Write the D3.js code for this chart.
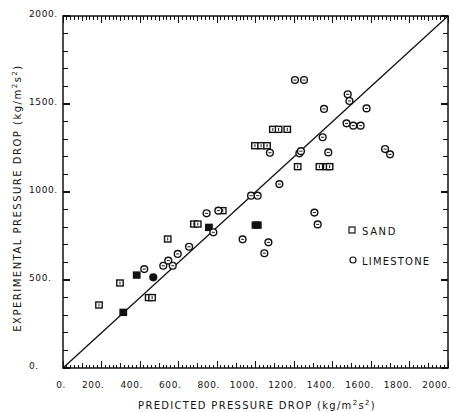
<!DOCTYPE html>
<html><head><meta charset="utf-8">
<script src="https://cdn.jsdelivr.net/npm/d3@7"></script>
<style>
html,body{margin:0;padding:0;background:#fff;}
text{font-family:"DejaVu Sans",sans-serif;fill:#111;}
</style></head>
<body>
<svg id="chart" width="454" height="412"></svg>
<script>
// Predicted (x) vs experimental (y) pressure drop, kg/m^2 s^2
const sandX = [187, 296, 445, 463, 544, 680, 700, 830, 997, 1029, 1060, 1090, 1120, 1165, 1219, 1332, 1370, 1385];
const sandY = [358, 483, 400, 400, 733, 818, 818, 894, 1263, 1263, 1263, 1356, 1356, 1356, 1144, 1144, 1144, 1144];
const sandFilledX = [313, 383, 758, 1000, 1012];
const sandFilledY = [316, 528, 799, 812, 812];
const limeX = [422, 521, 547, 570, 596, 655, 746, 807, 781, 977, 1011, 933, 1067, 1046, 1075, 1124, 1228, 1236, 1349, 1378, 1306, 1323, 1673, 1699, 1205, 1252, 1356, 1479, 1488, 1577, 1473, 1508, 1546];
const limeY = [562, 581, 610, 581, 648, 689, 879, 894, 771, 979, 979, 731, 714, 652, 1223, 1045, 1220, 1232, 1311, 1225, 883, 816, 1244, 1214, 1636, 1636, 1472, 1555, 1517, 1475, 1390, 1377, 1377];
const limeFilledX = [469];
const limeFilledY = [515];
const xTicks = [0, 200, 400, 600, 800, 1000, 1200, 1400, 1600, 1800, 2000];
const yTicks = [0, 500, 1000, 1500, 2000];
const legendLabels = ["SAND", "LIMESTONE"];
const xTitle = "PREDICTED PRESSURE DROP ";
const yTitle = "EXPERIMENTAL PRESSURE DROP ";

const svg = d3.select("#chart");
const x = d3.scaleLinear().domain([0, 2000]).range([63, 448]);
const y = d3.scaleLinear().domain([0, 2000]).range([368, 16]);
const ink = "#111";

// minor ticks
const g = svg.append("g").attr("shape-rendering", "crispEdges");
const minorX = d3.range(0, 2001, 20);
minorX.forEach(v => {
  const len = v % 200 === 0 ? 7 : (v % 100 === 0 ? 5 : 3.5);
  g.append("line").attr("x1", x(v)).attr("x2", x(v)).attr("y1", y(0)).attr("y2", y(0) - len).attr("stroke", ink).attr("stroke-width", 1);
  g.append("line").attr("x1", x(v)).attr("x2", x(v)).attr("y1", y(2000)).attr("y2", y(2000) + len).attr("stroke", ink).attr("stroke-width", 1);
});
const minorY = d3.range(0, 2001, 100);
minorY.forEach(v => {
  const len = v % 500 === 0 ? 7 : 5;
  g.append("line").attr("x1", x(0)).attr("x2", x(0) + len).attr("y1", y(v)).attr("y2", y(v)).attr("stroke", ink).attr("stroke-width", 1.2);
  g.append("line").attr("x1", x(2000)).attr("x2", x(2000) - len).attr("y1", y(v)).attr("y2", y(v)).attr("stroke", ink).attr("stroke-width", 1.2);
});

// frame
svg.append("rect").attr("x", x(0)).attr("y", y(2000)).attr("width", x(2000) - x(0)).attr("height", y(0) - y(2000))
  .attr("fill", "none").attr("stroke", ink).attr("stroke-width", 1.5);

// tick labels
svg.append("g").selectAll("text").data(xTicks).join("text")
  .attr("x", d => x(d) + 3).attr("y", 388).attr("text-anchor", "end")
  .attr("font-size", 9).attr("letter-spacing", 0.6).text(d => d + ".");
svg.append("g").selectAll("text").data(yTicks).join("text")
  .attr("x", 29).attr("y", d => y(d) + 1).attr("text-anchor", "start")
  .attr("font-size", 9).attr("letter-spacing", 0.6).text(d => d + ".");

// axis titles
function unitTitle(sel, base) {
  sel.append("tspan").text(base + "(kg/m");
  sel.append("tspan").attr("font-size", 7).attr("dy", -4).text("2");
  sel.append("tspan").attr("dy", 4).text("s");
  sel.append("tspan").attr("font-size", 7).attr("dy", -4).text("2");
  sel.append("tspan").attr("dy", 4).text(")");
}
const xt = svg.append("text").attr("x", 257).attr("y", 409).attr("text-anchor", "middle")
  .attr("font-size", 10).attr("letter-spacing", 1.3);
unitTitle(xt, xTitle);
const yt = svg.append("text").attr("transform", "translate(21,198) rotate(-90)").attr("text-anchor", "middle")
  .attr("font-size", 10).attr("letter-spacing", 1.5);
unitTitle(yt, yTitle);

// diagonal line
svg.append("line").attr("x1", x(0)).attr("y1", y(0)).attr("x2", x(2000)).attr("y2", y(2000))
  .attr("stroke", ink).attr("stroke-width", 1.3);

// markers
function squares(xs, ys, filled) {
  const s = svg.append("g");
  xs.forEach((v, i) => {
    s.append("rect").attr("x", x(v) - 3.2).attr("y", y(ys[i]) - 3).attr("width", 6.4).attr("height", 6)
      .attr("fill", filled ? ink : "#fff").attr("stroke", ink).attr("stroke-width", 1.4);
    if (!filled) s.append("line").attr("x1", x(v)).attr("x2", x(v)).attr("y1", y(ys[i]) - 1.5).attr("y2", y(ys[i]) + 1.5)
      .attr("stroke", ink).attr("stroke-width", 1);
  });
}
function circles(xs, ys, filled) {
  const s = svg.append("g");
  xs.forEach((v, i) => {
    s.append("circle").attr("cx", x(v)).attr("cy", y(ys[i])).attr("r", 3.4)
      .attr("fill", filled ? ink : "#fff").attr("stroke", ink).attr("stroke-width", 1.4);
    if (!filled) s.append("line").attr("x1", x(v) - 1.5).attr("x2", x(v) + 1.5).attr("y1", y(ys[i])).attr("y2", y(ys[i]))
      .attr("stroke", ink).attr("stroke-width", 1);
  });
}
squares(sandX, sandY, false);
squares(sandFilledX, sandFilledY, true);
circles(limeX, limeY, false);
circles(limeFilledX, limeFilledY, true);

// legend
const lg = svg.append("g");
lg.append("rect").attr("x", 349).attr("y", 227).attr("width", 6).attr("height", 6).attr("fill", "none").attr("stroke", ink).attr("stroke-width", 1.2);
lg.append("text").attr("x", 362).attr("y", 234.5).attr("font-size", 10).attr("letter-spacing", 1.6).text(legendLabels[0]);
lg.append("circle").attr("cx", 353).attr("cy", 260).attr("r", 3).attr("fill", "none").attr("stroke", ink).attr("stroke-width", 1.2);
lg.append("text").attr("x", 362).attr("y", 264.5).attr("font-size", 10).attr("letter-spacing", 1.2).text(legendLabels[1]);
</script>
</body></html>
